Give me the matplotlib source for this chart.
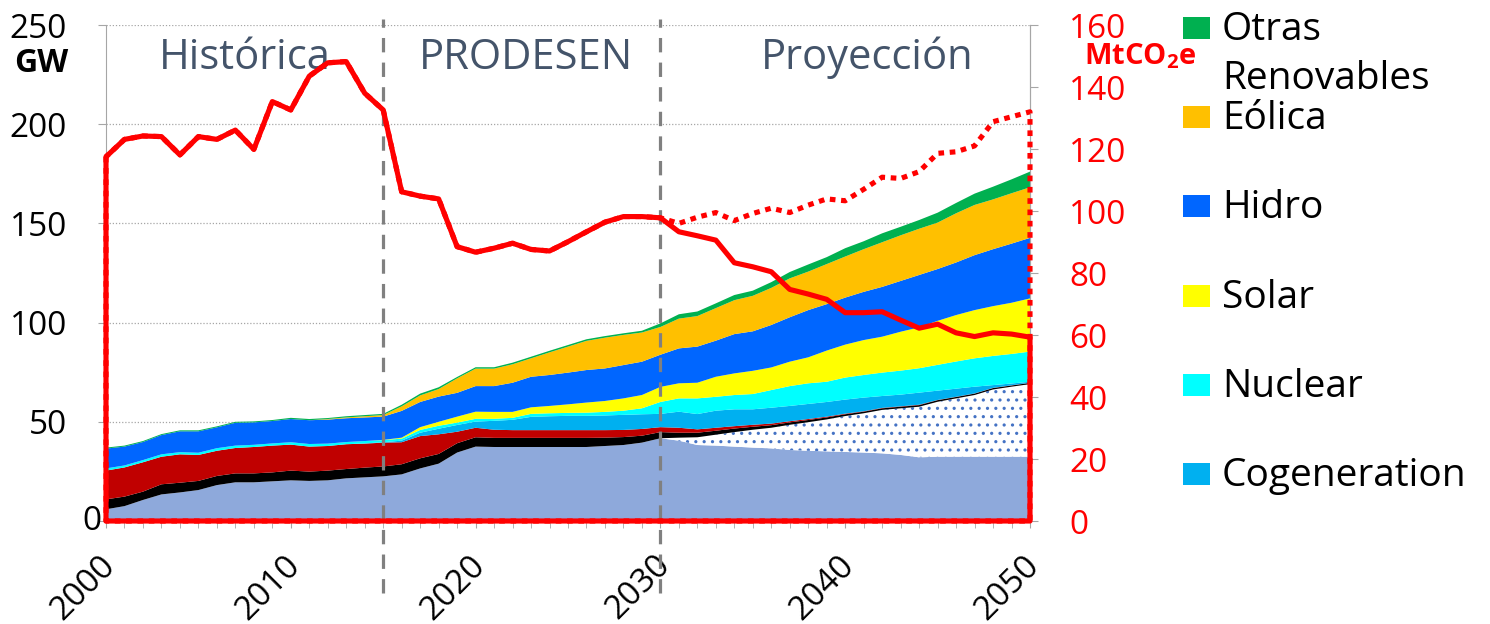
import numpy as np
import matplotlib
matplotlib.use("Agg")
import matplotlib.pyplot as plt
from matplotlib.patches import Rectangle
from matplotlib.transforms import ScaledTranslation

plt.rcParams['font.family'] = ['Open Sans', 'DejaVu Sans']
plt.rcParams['hatch.color'] = '#4472C4'
plt.rcParams['hatch.linewidth'] = 1.1
plt.rcParams['mathtext.fontset'] = 'custom'
plt.rcParams['mathtext.bf'] = 'Open Sans:bold'
plt.rcParams['mathtext.rm'] = 'Open Sans'

# ---------------- data ----------------
years = list(range(2000, 2051))

periwinkle = [5.9, 7.5, 10.6, 13.4, 14.4, 15.6, 18.1, 19.5, 19.5, 20.0,
              20.5, 20.2, 20.5, 21.5, 22.0, 22.5, 23.5, 26.5, 28.9, 34.5,
              37.5, 37.3, 37.3, 37.3, 37.3, 37.3, 37.3, 37.8, 38.3, 39.5,
              41.7, 40.5, 38.3, 38.0, 37.5, 37.0, 36.6, 35.8, 35.4, 35.1,
              34.8, 34.5, 34.1, 33.3, 32.1, 32.4, 32.4, 32.4, 32.4, 32.4, 32.4]
dotted = [0.0] * 30 + [0.0, 1.5, 3.9, 5.5, 7.3, 9.0, 10.4, 12.7, 14.4, 16.1,
                       18.1, 19.8, 21.9, 23.5, 25.5, 27.7, 29.4, 31.1, 33.9, 35.3, 36.6]
carbon = [5.0, 4.8, 4.2, 5.1, 4.9, 4.6, 4.6, 4.5, 4.5, 4.5,
          4.9, 4.7, 4.9, 4.7, 4.9, 5.0, 5.1, 5.1, 4.9, 4.7,
          4.7, 4.6, 4.6, 4.6, 4.6, 4.6, 4.6, 4.2, 4.0, 3.5,
          3.1, 2.5, 2.3, 2.0, 1.8, 1.5, 1.3, 1.2, 1.1, 1.0,
          0.9, 0.8, 0.8, 0.8, 0.8, 0.8, 0.7, 0.7, 0.7, 0.6, 0.6]
combustoleo = [14.5, 14.7, 14.8, 13.9, 14.3, 13.1, 12.7, 12.8, 13.3, 13.5,
               13.1, 12.6, 12.4, 12.5, 12.1, 12.0, 11.1, 11.2, 9.9, 5.8,
               4.8, 4.1, 3.9, 3.9, 3.9, 3.9, 3.9, 3.8, 3.6, 3.4,
               2.5, 2.5, 1.7, 1.5, 1.2, 1.0, 0.8, 0.6, 0.5, 0.4,
               0.3, 0.2, 0.2, 0.2, 0.2, 0.1, 0.1, 0.1, 0.1, 0.1, 0.1]
cogeneration = [0.0] * 14 + [0.1, 0.2, 0.8, 1.7, 2.8, 3.4,
                             3.1, 4.5, 5.2, 6.7, 7.0, 7.2, 7.2, 7.4, 7.6, 7.4,
                             6.7, 8.1, 7.7, 8.6, 8.5, 7.8, 8.0, 7.7, 7.6, 7.4,
                             7.1, 6.9, 6.0, 5.9, 6.1, 4.7, 4.1, 3.4, 1.4, 0.9, 0.5]
nuclear = [1.1, 1.0, 1.1, 1.2, 1.1, 1.1, 1.3, 1.2, 1.1, 1.1,
           1.2, 1.3, 1.2, 1.1, 1.2, 1.1, 1.0, 1.4, 1.5, 1.2,
           1.4, 1.0, 1.0, 1.5, 1.5, 1.5, 1.6, 1.8, 2.1, 3.0,
           6.0, 6.7, 7.9, 7.0, 7.2, 7.7, 8.9, 10.0, 10.4, 10.2,
           11.1, 11.4, 11.8, 12.1, 12.3, 13.0, 13.7, 14.3, 14.7, 14.9, 15.2]
solar = [0.0] * 15 + [0.1, 0.5, 1.4, 2.0, 3.0,
                      3.6, 3.5, 3.0, 3.3, 3.7, 4.3, 5.1, 5.5, 6.2, 6.7,
                      7.6, 7.6, 7.9, 10.1, 10.9, 11.7, 11.4, 12.3, 13.1, 15.7,
                      16.6, 17.6, 18.1, 19.6, 20.6, 22.2, 23.4, 24.3, 25.1, 25.8, 26.8]
hidro = [10.0, 9.5, 9.1, 9.7, 10.5, 10.8, 10.5, 11.5, 11.3, 11.3,
         11.7, 12.0, 12.1, 12.0, 11.9, 11.7, 13.5, 12.7, 12.7, 12.0,
         12.9, 13.0, 14.7, 15.4, 15.6, 16.0, 16.4, 16.4, 16.8, 16.8,
         16.2, 17.6, 18.2, 18.2, 19.8, 19.9, 21.4, 22.4, 23.8, 23.4,
         23.7, 24.3, 25.1, 25.6, 26.4, 26.1, 26.5, 27.7, 28.7, 29.8, 30.5]
eolica = [0.0] * 12 + [0.3, 0.4, 0.6, 0.8, 2.3, 3.3, 3.8, 7.3,
                       8.8, 8.8, 9.3, 9.3, 11.4, 13.1, 14.7, 15.5, 15.2, 14.7,
                       14.0, 15.0, 15.4, 16.4, 17.1, 17.9, 18.7, 19.6, 19.4, 20.2,
                       20.7, 21.5, 22.5, 23.0, 23.3, 23.4, 24.8, 25.3, 25.1, 25.4, 25.5]
otras = [0.5] * 10 + [0.6, 0.6, 0.5, 0.6, 0.6, 0.6, 0.8, 0.9, 0.9, 0.7,
                      0.7, 0.7, 0.8, 0.8, 0.8, 0.8, 0.8, 0.8, 0.8, 0.9,
                      1.8, 2.2, 2.3, 2.4, 2.6, 2.6, 2.9, 3.2, 3.6, 3.5,
                      4.2, 4.0, 4.5, 4.3, 4.4, 5.0, 5.2, 5.7, 6.4, 7.0, 7.9]

# emissions, MtCO2e
emisiones = [117.5, 123.1, 124.2, 124.0, 118.1, 124.0, 123.1, 126.1, 119.9, 135.3,
             132.6, 143.5, 147.8, 148.2, 138.0, 132.6, 106.2, 104.8, 103.9, 88.5,
             86.7, 88.0, 89.6, 87.6, 87.1, 90.1, 93.3, 96.4, 98.2, 98.2,
             97.8, 93.3, 92.0, 90.6, 83.3, 82.0, 80.4, 74.7, 73.2, 71.5,
             67.2, 67.2, 67.5, 64.8, 62.2, 63.5, 60.7, 59.5, 60.7, 60.3, 59.3]
emisiones_base_2031 = [96.0, 98.0, 99.5, 96.9, 99.2, 100.9, 99.5, 101.9, 103.9,
                       103.3, 107.0, 110.9, 110.5, 112.7, 118.6, 119.1, 121.0, 128.8, 130.4, 132.0]

periods = ['Histórica', 'PRODESEN', 'Proyección']
period_centers = [2007.5, 2022.75, 2041.2]
period_breaks = [2015, 2030]

legend_labels = ['Otras\nRenovables', 'Eólica', 'Hidro', 'Solar', 'Nuclear', 'Cogeneration']
legend_colors = ['#00B050', '#FFC000', '#0066FF', '#FFFF00', '#00FFFF', '#00B0F0']

layer_colors = ['#8EA9DB', '#FFFFFF', '#000000', '#C00000', '#00B0F0',
                '#00FFFF', '#FFFF00', '#0066FF', '#FFC000', '#00B050']

# ---------------- figure ----------------
fig = plt.figure(figsize=(14.9, 6.24), dpi=100)
ax = fig.add_axes([106 / 1490, 103 / 624, 924 / 1490, 496 / 624])

ax.set_axisbelow(True)
ax.yaxis.grid(True, linestyle=(0, (1, 1.5)), color='#A6A6A6', linewidth=0.9)

polys = ax.stackplot(years, periwinkle, dotted, carbon, combustoleo, cogeneration,
                     nuclear, solar, hidro, eolica, otras,
                     colors=layer_colors, linewidth=0, zorder=2)
polys[1].set_hatch('..')
polys[1].set_edgecolor('#4472C4')
polys[1].set_linewidth(0)

ax.set_xlim(2000, 2050)
ax.set_ylim(0, 250)
ax.set_yticks(range(0, 251, 50))
ax.set_yticklabels([''] + [str(v) for v in range(50, 251, 50)])
ax.text(-0.015, 0, '0', transform=ax.get_yaxis_transform(), ha='center', va='center',
        fontsize=24)
ax.set_xticks(range(2000, 2051, 10))
ax.set_xticks(years, minor=True)
ax.tick_params(axis='y', which='both', direction='out', length=6, color='#A6A6A6',
               labelsize=24, pad=22)
ax.tick_params(axis='x', which='both', direction='out', length=5, color='#A6A6A6',
               labelsize=24, pad=15)
shift = ScaledTranslation(-0.07, 0, fig.dpi_scale_trans)
for lbl in ax.get_xticklabels():
    lbl.set_rotation(45)
    lbl.set_ha('right')
    lbl.set_va('top')
    lbl.set_rotation_mode('anchor')
    lbl.set_transform(lbl.get_transform() + shift)

ax.spines['top'].set_visible(False)
for s in ['left', 'bottom', 'right']:
    ax.spines[s].set_color('#A6A6A6')

# secondary axis for emissions
ax2 = ax.twinx()
ax2.set_ylim(0, 160)
ax2.set_yticks(range(0, 161, 20))
ax2.tick_params(axis='y', direction='out', length=6, color='#A6A6A6',
                labelsize=24, labelcolor='red', pad=22)
for s in ['top', 'left']:
    ax2.spines[s].set_visible(False)
ax2.spines['right'].set_color('#A6A6A6')

# period separators
for xb in period_breaks:
    ax2.plot([xb, xb], [-0.145, 1.012], transform=ax2.get_xaxis_transform(),
             color='#808080', lw=2.3, dashes=(4.5, 3.2), clip_on=False, zorder=3)
for name, xc in zip(periods, period_centers):
    ax2.text(xc, 0.933, name, transform=ax2.get_xaxis_transform(), ha='center',
             va='center', fontsize=30, color='#44546A', zorder=4)

emis_base = emisiones[:31] + emisiones_base_2031
ax2.fill_between(years, 0, emis_base, facecolor='none', edgecolor='#FF0000',
                 linewidth=3.7, linestyle=(0, (1.1, 1.1)), clip_on=False, zorder=5)
ax2.fill_between(years, 0, emisiones, facecolor='none', edgecolor='#FF0000',
                 linewidth=3.7, clip_on=False, zorder=6, joinstyle='round')

# axis titles
fig.text(41 / 1490, 1 - 63 / 624, 'GW', ha='center', va='center', fontsize=23,
         fontweight='bold', color='black')
fig.text(1140 / 1490, 1 - 64 / 624, r'$\mathbf{MtCO_2e}$', ha='center', va='baseline',
         fontsize=21, color='#FF0000')

# legend drawn by hand
leg_y = [28, 117, 206, 296, 385, 474]
for lab, col, yc in zip(legend_labels, legend_colors, leg_y):
    fig.patches.append(Rectangle((1183 / 1490, 1 - (yc + 11) / 624), 27 / 1490, 22 / 624,
                                 transform=fig.transFigure, facecolor=col,
                                 edgecolor='none'))
    parts = lab.split('\n')
    fig.text(1222 / 1490, 1 - (yc + 2) / 624, parts[0], ha='left', va='center',
             fontsize=28, color='black')
    if len(parts) > 1:
        fig.text(1222 / 1490, 1 - (yc + 51) / 624, parts[1], ha='left',
                 va='center', fontsize=28, color='black')

fig.savefig('out.png', dpi=100)
